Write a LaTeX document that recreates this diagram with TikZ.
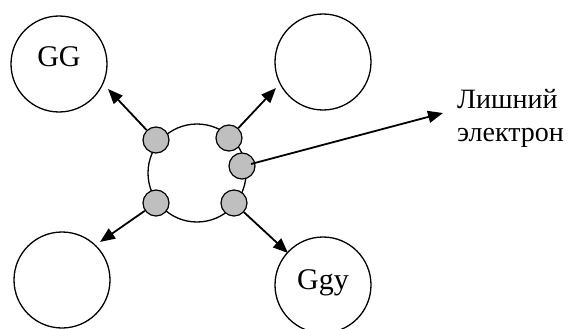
\documentclass[tikz,border=0pt]{standalone}
\usepackage{fontspec}
\setmainfont{Liberation Serif}
\usetikzlibrary{arrows.meta}
\begin{document}
\begin{tikzpicture}[x=1pt,y=-1pt,
  big/.style={circle,draw,line width=1.3pt,minimum size=96pt,inner sep=0pt},
  bigtext/.style={font=\fontsize{30}{34}\selectfont,inner sep=0pt},
  atom/.style={circle,draw,line width=1.3pt,minimum size=98pt,inner sep=0pt},
  el/.style={circle,draw,line width=1.2pt,fill=black!25,minimum size=26pt,inner sep=0pt},
  arr/.style={line width=1.8pt,-{Triangle[length=15pt,width=12pt]}}]
\useasboundingbox (0,0) rectangle (584,329);
\node[atom] (c) at (197,173) {};
\node[big] (gg) at (59,64) {};
\node[bigtext] (ggt) at (59,57) {GG};
\node[big] (tr) at (323,62) {};
\node[big] (bl) at (62,280) {};
\node[big] (ggy) at (323,285) {};
\node[bigtext] (ggyt) at (323,283) {Ggy};
\coordinate (ttl) at (108,89);
\coordinate (ttr) at (276,88);
\coordinate (tbl) at (100,242);
\coordinate (tbr) at (288,253);
\coordinate (tex) at (443,113);
\node[el] (e1) at (156,140) {};
\node[el] (e2) at (229,138) {};
\node[el] (e3) at (242,166) {};
\node[el] (e4) at (156,203) {};
\node[el] (e5) at (234,203) {};
\draw[arr] (e1) -- (ttl);
\draw[arr] (e2) -- (ttr);
\draw[arr] (e4) -- (tbl);
\draw[arr] (e5) -- (tbr);
\draw[arr] (e3.center) ++(9,-2) coordinate (s3) (s3) -- (tex);
\node[anchor=base west,align=left,inner sep=0pt,font=\fontsize{28}{33}\selectfont] (lbl) at (457,141) {Лишний\\электрон};
\end{tikzpicture}
\end{document}
